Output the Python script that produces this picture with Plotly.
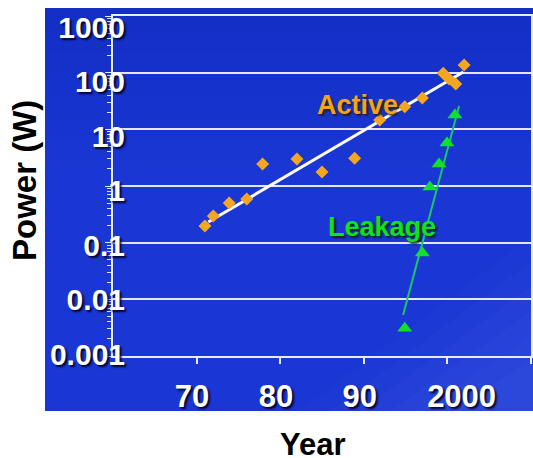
import plotly.graph_objects as go
import math

# ---------------- data ----------------
active_years = [1971.0, 1972.0, 1973.9, 1976.0, 1977.9, 1982.0, 1985.0, 1988.9,
                1991.9, 1994.9, 1997.0, 1999.5, 2000.2, 2001.0, 2002.0]
active_power = [0.197, 0.296, 0.50, 0.59, 2.44, 3.0, 1.77, 3.1,
                14.6, 25, 35.7, 98, 77, 63, 136]
active_trend_years = [1971.4, 2001.9]
active_trend_power = [0.232, 103]

leak_years = [1994.9, 1997.0, 1997.9, 1999.0, 1999.95, 2000.9]
leak_power = [0.0031, 0.066, 0.96, 2.44, 5.74, 17.9]
leak_trend_years = [1994.7, 2001.4]
leak_trend_power = [0.0053, 25.8]

x_tick_years = [1970, 1980, 1990, 2000, 2010]
x_label_years = [1970, 1980, 1990, 2000]
x_label_text = ["70", "80", "90", "2000"]
y_tick_vals = [0.001, 0.01, 0.1, 1, 10, 100, 1000]
y_tick_text = ["0.001", "0.01", "0.1", "1", "10", "100", "1000"]

# ---------------- layout geometry ----------------
W, H = 533, 458
L, R, T, B = 113, 531, 16, 356   # plot area in px
PW, PH = R - L, B - T

def px(x):
    return (x - L) / PW

def py(y):
    return (B - y) / PH

FONT = "Arial, 'Liberation Sans', sans-serif"
shadow = "2px 2px 2px rgba(0,0,30,0.9)"

fig = go.Figure()

fig.add_trace(go.Scatter(x=active_trend_years, y=active_trend_power, mode="lines",
                         line=dict(color="white", width=3), showlegend=False, hoverinfo="skip"))
fig.add_trace(go.Scatter(x=active_years, y=active_power, mode="markers",
                         marker=dict(symbol="diamond", size=10, color="#f4a621"),
                         name="Active", showlegend=False))
fig.add_trace(go.Scatter(x=leak_trend_years, y=leak_trend_power, mode="lines",
                         line=dict(color="#1cc46c", width=2), showlegend=False, hoverinfo="skip"))
fig.add_trace(go.Scatter(x=leak_years, y=leak_power, mode="markers",
                         marker=dict(symbol="triangle-up", size=13, color="#12e02a"),
                         name="Leakage", showlegend=False))

# background: blue panel with a soft darker top and lighter bottom-right
shapes = [
    dict(type="rect", xref="paper", yref="paper", x0=px(45), x1=px(540), y0=py(411), y1=py(8),
         fillcolor="#1a36d4", line=dict(width=0), layer="below"),
]
for k in range(1, 8):
    shapes.append(dict(type="rect", xref="paper", yref="paper", x0=px(45), x1=px(540),
                       y0=py(8 + 22 * k), y1=py(8), fillcolor="rgba(20,30,110,0.022)",
                       line=dict(width=0), layer="below"))
for k in range(6):
    sx = 300 + 30 * k
    sy = 230 + 25 * k
    shapes.append(dict(type="path", xref="paper", yref="paper",
                       path=f"M{px(sx)},{py(411)} L{px(540)},{py(sy)} L{px(540)},{py(411)} Z",
                       fillcolor="rgba(110,150,255,0.045)", line=dict(width=0), layer="below"))

label_shift = [-0.55, -0.5, -0.5, 1.7]

axis_col = "#e8ecff"
fig.update_layout(
    width=W, height=H,
    margin=dict(l=L, r=W - R, t=T, b=H - B, autoexpand=False),
    paper_bgcolor="white", plot_bgcolor="rgba(0,0,0,0)",
    shapes=shapes,
    font=dict(family=FONT),
    xaxis=dict(range=[1960, 2010], tickvals=x_tick_years, showticklabels=False,
               ticks="outside", ticklen=6, tickcolor=axis_col, tickwidth=1.5,
               showline=True, linecolor=axis_col, linewidth=2, mirror=True,
               showgrid=False, zeroline=False),
    xaxis2=dict(range=[1960, 2010], overlaying="x", anchor="y", side="bottom",
                tickvals=[y + s for y, s in zip(x_label_years, label_shift)], ticktext=x_label_text,
                ticks="", showline=False, showgrid=False, zeroline=False,
                tickfont=dict(size=31, color="white", weight="bold", shadow=shadow, family=FONT),
                ticklabelstandoff=19),
    yaxis=dict(type="log", range=[-3, 3], tickvals=y_tick_vals, showticklabels=False,
               ticks="outside", ticklen=6, tickcolor=axis_col,
               showline=True, linecolor=axis_col, linewidth=1.5, mirror=True,
               showgrid=True, gridcolor="rgba(238,240,250,0.95)", gridwidth=2,
               minor=dict(dtick="D1", ticks="outside", ticklen=4, tickcolor="#dfe4ff", showgrid=False),
               zeroline=False),
    yaxis2=dict(type="log", range=[-3.029, 3.209], overlaying="y", anchor="x", side="left",
                tickvals=y_tick_vals, ticktext=y_tick_text, ticks="", showline=False,
                showgrid=False, zeroline=False,
                tickfont=dict(size=30, color="white", weight="bold", shadow=shadow, family=FONT),
                ticklabelstandoff=-13),
)

# invisible trace to activate the label axes
fig.add_trace(go.Scatter(x=[None], y=[None], xaxis="x2", yaxis="y2", showlegend=False, hoverinfo="skip"))

fig.add_annotation(x=1989.2, y=math.log10(27), text="Active", showarrow=False,
                   font=dict(size=27, color="#f2a41c", weight="bold",
                             shadow="2px 2px 2px rgba(40,30,0,0.9)", family=FONT))
fig.add_annotation(x=1992.2, y=math.log10(0.19), text="Leakage", showarrow=False,
                   font=dict(size=27, color="#14e01e", weight="bold",
                             shadow="2px 2px 2px rgba(0,40,0,0.9)", family=FONT))

fig.add_annotation(xref="paper", yref="paper", x=px(24), y=py(181), text="Power (W)", textangle=-90,
                   showarrow=False, xanchor="center", yanchor="middle",
                   font=dict(size=33, color="black", weight="bold", family=FONT))
fig.add_annotation(xref="paper", yref="paper", x=px(313), y=py(444), text="Year",
                   showarrow=False, xanchor="center", yanchor="middle",
                   font=dict(size=31, color="black", weight="bold", family=FONT))

# remove the default 8px page margin so the figure sits at the window origin
fig.write_html("out.html", config={"displayModeBar": False},
               post_script="document.body.style.margin='0';document.body.style.overflow='hidden';")
